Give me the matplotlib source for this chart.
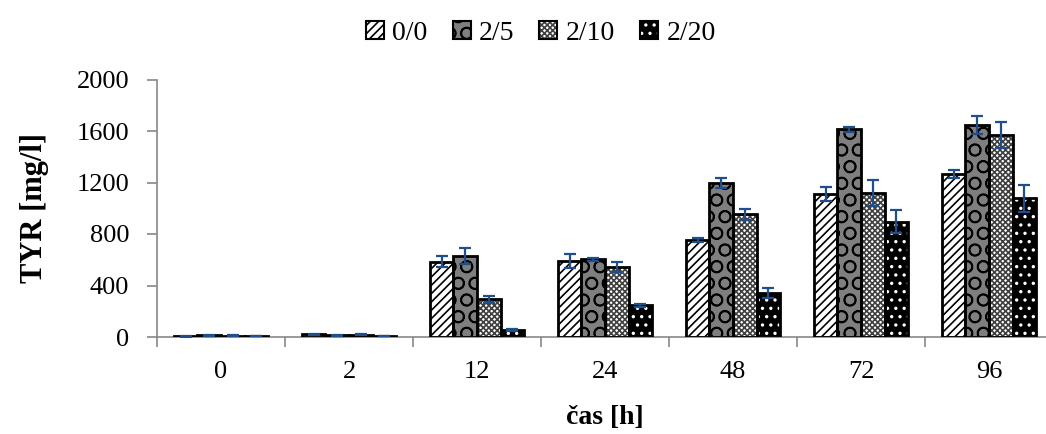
import numpy as np
import matplotlib
matplotlib.use("Agg")
import matplotlib.pyplot as plt
from matplotlib.patches import Patch
from matplotlib.legend_handler import HandlerTuple

plt.rcParams['font.family'] = ['Liberation Serif', 'DejaVu Serif']
plt.rcParams['hatch.linewidth'] = 1.2

# data
casy = ["0", "2", "12", "24", "48", "72", "96"]
serie = ["0/0", "2/5", "2/10", "2/20"]
tyr_00 = [5, 20, 585, 587, 752, 1109, 1266]
tyr_25 = [12, 12, 629, 604, 1199, 1615, 1647]
tyr_210 = [10, 18, 293, 542, 953, 1121, 1569]
tyr_220 = [8, 8, 54, 247, 339, 896, 1077]
err_00 = [2, 3, 45, 54, 18, 54, 34]
err_25 = [2, 2, 65, 10, 39, 19, 69]
err_210 = [2, 2, 26, 41, 44, 102, 101]
err_220 = [2, 2, 8, 13, 38, 87, 104]

hodnoty = [tyr_00, tyr_25, tyr_210, tyr_220]
chyby = [err_00, err_25, err_210, err_220]

# styl kazde serie: (barva, hatch, barva hatche)
styly = [("white", "////", "black"),
         ("#7f7f7f", "O", "black"),
         ("white", "xxxxxx", "#404040"),
         ("black", "..", "white")]

fig = plt.figure(figsize=(10.46, 4.34), dpi=100)
ax = fig.add_axes([157 / 1046, 97 / 434, 896 / 1046, 257.5 / 434])

x = np.arange(len(casy))
w = 0.184
for i, (vals, errs) in enumerate(zip(hodnoty, chyby)):
    fc, h, hc = styly[i]
    pos = x + (i - 1.5) * w
    ax.bar(pos, vals, w, color=fc, edgecolor=hc, hatch=h, linewidth=0, zorder=2)
    ax.bar(pos, vals, w, fill=False, edgecolor="black", linewidth=2, zorder=3)
    ax.errorbar(pos, vals, yerr=errs, fmt="none", ecolor="#1f4e8c",
                elinewidth=1.6, capsize=4.5, capthick=1.6, zorder=4)

ax.set_xlim(-0.5, len(casy) - 0.5)
ax.set_ylim(0, 2000)
ax.set_yticks([0, 400, 800, 1200, 1600, 2000])
ax.set_xticks(x)
ax.set_xticklabels(casy)
ax.set_xticks(np.arange(-0.5, len(casy), 1), minor=True)
ax.tick_params(axis="x", which="major", length=0, labelsize=19, pad=17)
ax.tick_params(axis="x", which="minor", length=7, color="#888888", width=1.2)
ax.tick_params(axis="y", length=7, color="#888888", width=1.2, labelsize=19, pad=13)

for s in ["top", "right"]:
    ax.spines[s].set_visible(False)
for s in ["left", "bottom"]:
    ax.spines[s].set_color("#888888")
    ax.spines[s].set_linewidth(1.2)

ax.set_ylabel("TYR [mg/l]", fontsize=22, fontweight="bold", labelpad=20)
ax.set_xlabel("čas [h]", fontsize=20, fontweight="bold", labelpad=16)

handles = []
for i, nazev in enumerate(serie):
    fc, h, hc = styly[i]
    vypln = Patch(facecolor=fc, edgecolor=hc, hatch=h, linewidth=0)
    okraj = Patch(fill=False, edgecolor="black", linewidth=1.5)
    handles.append((vypln, okraj))
fig.legend(handles=handles, labels=serie, loc="upper center",
           bbox_to_anchor=(0.517, 1.01), ncol=4, frameon=False, fontsize=20,
           handlelength=0.65, handleheight=0.65, handletextpad=0.3,
           columnspacing=0.9, handler_map={tuple: HandlerTuple(ndivide=1, pad=0)})

fig.savefig("out.png", dpi=100)
